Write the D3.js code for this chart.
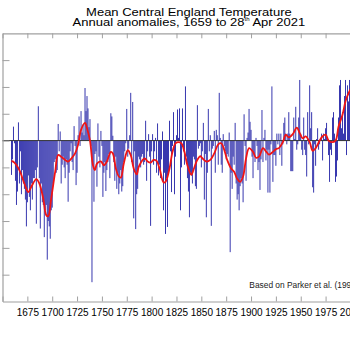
<!DOCTYPE html>
<html>
<head>
<meta charset="utf-8">
<script src="https://cdn.jsdelivr.net/npm/d3@7"></script>
<style>
  body { margin: 0; background: #fff; }
  text { font-family: "Liberation Sans", Arial, sans-serif; }
</style>
</head>
<body>
<div id="chart"></div>
<script>
// annual anomalies (degC), one per year from firstYear
var firstYear = 1659;
var anomalies = [
  -0.64, -0.35, 0.26, -0.05, -0.75, -1.20, -0.95, 0.34, -0.80, -0.20, -1.00,
  -0.55, -0.80, -0.90, -1.10, -1.60, -1.15, -0.65, -1.05, -1.30, -0.80,
  -1.10, -0.70, -0.70, -0.55, -1.55, -0.50, 0.64, -0.70, -1.64, -0.80,
  -1.15, -1.20, -1.80, -1.30, -1.20, -2.22, -1.50, -1.60, -1.83, -1.30,
  -1.25, -0.80, -0.40, -0.35, -0.60, -0.55, 0.31, -0.20, 0.17, -0.80,
  -0.45, -0.30, -0.50, -0.70, -0.35, -0.45, -1.14, -0.60, -0.20, -0.05,
  -0.40, -0.55, 0.27, -0.10, -0.83, -0.60, 0.10, 0.45, -0.10, 0.55,
  0.15, 0.30, 0.10, 0.98, 0.55, 0.83, 0.60, 0.25, 0.40, -0.10,
  -2.64, -0.45, -1.14, -0.25, -0.20, -0.86, 0.32, -0.30, -0.50, 0.18,
  -0.10, -1.05, -0.60, -0.40, -0.94, -0.55, -0.40, -0.25, -0.70, 0.51,
  0.45, 0.09, -0.40, -0.75, -0.30, -0.90, -0.60, -1.00, -0.80, -0.55,
  -0.95, -0.85, -0.40, -0.20, -0.05, 0.59, -0.30, -0.15, 0.10, 0.89,
  -0.40, 0.72, -1.45, -0.20, -1.65, -1.00, -0.90, -0.30, -0.35, -0.50,
  -0.30, -0.25, -0.45, -0.40, 0.37, -0.75, -0.20, 0.12, -0.30, -1.59,
  -0.20, 0.12, -0.45, -0.20, 0.05, -0.60, 0.32, -0.65, -0.45, -0.70,
  -0.35, 0.17, -1.30, -0.60, -1.74, -0.70, -1.61, -0.60, 0.37, -0.20,
  -0.96, -0.10, 0.53, -1.00, -0.30, 0.10, 0.58, 0.05, 0.60, -1.30,
  -0.50, 0.60, -0.20, -0.45, 1.01, -0.30, -0.70, -0.95, -1.43, -0.60,
  -0.65, -0.80, -0.30, -0.35, -0.85, -0.90, 0.66, -0.15, -0.10, -0.05,
  -0.50, -0.20, 0.33, -1.10, -0.25, -1.43, -0.60, 0.59, -0.20, 0.10,
  -1.59, -0.15, -0.10, 0.18, -0.60, 0.20, 0.10, -0.45, 0.89, 0.05,
  -0.45, -0.60, 0.12, -0.10, -0.20, -0.35, -0.25, -0.30, 0.15, -2.08,
  -0.60, -0.90, -0.30, -0.45, 0.33, -0.80, -1.10, -1.00, -1.30, -0.85,
  -0.70, -0.80, -1.15, 0.49, -0.10, -0.75, 0.05, 0.15, 0.59, 0.35,
  0.20, -0.30, -0.70, -0.25, -0.40, 0.05, -0.10, -0.55, -0.40, -0.92,
  -0.35, 0.57, -0.40, 0.05, 0.20, -0.37, -0.17, -0.97, -0.17, -0.97,
  -0.07, 1.01, -0.77, -0.27, -0.27, -0.47, 0.13, -0.07, 0.13, -0.27,
  0.13, -0.47, -0.07, 0.33, 0.43, 0.13, -0.07, 0.13, 0.53, 0.13,
  -0.57, -0.57, -0.57, 0.43, 0.03, 0.63, -0.17, -0.07, 0.43, 1.13,
  0.13, -0.17, -0.27, 0.43, -0.17, -0.27, -0.67, 0.53, -0.07, 1.03,
  0.23, 0.53, -0.87, -0.97, -0.07, -0.47, 0.03, 0.23, -0.17, -0.07,
  0.03, 0.13, -0.37, 0.13, 0.03, 0.23, 0.33, 0.03, -0.27, -0.77,
  -0.17, -0.27, 0.43, 0.53, 0.13, -0.77, -0.67, -0.37, 0.43, 1.03,
  1.13, 0.23, 0.53, 0.13, 0.83, 1.13, -0.27, 1.03, 0.73, 1.13,
  0.83, 0.53, 1.13, 1.03, 1.13, 1.03, 1.33, 1.13, 0.63, 0.63,
  -0.57, 1.23, 0.23, 0.13, 1.48, 0.83, 0.83, 1.13, 1.03, 0.83,
  1.33, 0.20
];

// smoothed curve
var smoothYears = [1659, 1662, 1667, 1672, 1676, 1679, 1684, 1687, 1691, 1694, 1696, 1699,
  1703, 1706, 1709, 1713, 1716, 1719, 1723, 1726, 1729, 1733, 1735, 1738, 1741, 1743,
  1745, 1749, 1752, 1755, 1759, 1761, 1764, 1767, 1769, 1772, 1776, 1779, 1782, 1785,
  1787, 1791, 1793, 1796, 1799, 1802, 1805, 1808, 1812, 1814, 1818, 1821, 1824, 1827,
  1830, 1833, 1836, 1840, 1842, 1846, 1849, 1851, 1855, 1859, 1863, 1867, 1870, 1873,
  1876, 1880, 1883, 1886, 1889, 1892, 1895, 1898, 1902, 1905, 1908, 1912, 1915, 1918,
  1922, 1925, 1928, 1932, 1935, 1938, 1942, 1946, 1949, 1952, 1955, 1959, 1962, 1965,
  1969, 1972, 1975, 1978, 1981, 1985, 1988, 1992, 1995, 1998, 2001, 2005, 2009, 2013,
  2017, 2021];
var smoothValues = [-0.38, -0.41, -0.55, -0.80, -0.96, -0.86, -0.72, -0.80, -1.08, -1.39, -1.41, -1.08,
  -0.58, -0.27, -0.30, -0.36, -0.39, -0.34, -0.24, -0.08, 0.20, 0.33, 0.23, 0.00, -0.46, -0.55,
  -0.43, -0.39, -0.46, -0.39, -0.21, -0.24, -0.52, -0.67, -0.69, -0.43, -0.18, -0.27, -0.52, -0.63,
  -0.49, -0.36, -0.33, -0.39, -0.41, -0.36, -0.38, -0.52, -0.78, -0.77, -0.52, -0.21, -0.05, -0.03,
  -0.05, -0.21, -0.46, -0.64, -0.55, -0.36, -0.29, -0.33, -0.39, -0.36, -0.24, -0.07, -0.05, -0.17,
  -0.36, -0.52, -0.58, -0.71, -0.77, -0.67, -0.33, -0.14, -0.21, -0.32, -0.30, -0.14, -0.20, -0.26,
  -0.21, -0.16, -0.14, -0.03, 0.11, 0.06, 0.12, 0.24, 0.14, 0.04, 0.08, -0.03, -0.19, -0.14,
  0.00, 0.08, 0.11, 0.00, -0.03, 0.00, 0.26, 0.48, 0.73, 0.88, 0.98, 1.05, 1.00, 0.95,
  1.05, 1.10];

var tickYears = [1650, 1675, 1700, 1725, 1750, 1775, 1800, 1825, 1850, 1875, 1900, 1925, 1950, 1975, 2000, 2025];
var yTicks = [-2.5, -2, -1.5, -1, -0.5, 0, 0.5, 1, 1.5];

var w = 350, h = 350;
var axisColor = "#a0a0a0";

var svg = d3.select("#chart").append("svg")
  .attr("width", w)
  .attr("height", h);

var x = d3.scaleLinear().domain([1650, 2025]).range([2.5, 375.3]);
var y = d3.scaleLinear().domain([-3, 2]).range([301.5, 33.3]);

var bars = anomalies.map(function (v, i) { return { year: firstYear + i, value: v }; });

// bars
svg.append("g").selectAll("rect")
  .data(bars)
  .enter()
  .append("rect")
  .attr("x", function (d) { return x(d.year) - 0.45; })
  .attr("width", 0.9)
  .attr("y", function (d) { return y(Math.max(0, d.value)); })
  .attr("height", function (d) { return Math.abs(y(d.value) - y(0)); })
  .attr("fill", "#2222a6");

// zero line
svg.append("line")
  .attr("x1", x(1650)).attr("x2", x(2025))
  .attr("y1", y(0)).attr("y2", y(0))
  .attr("stroke", "#333")
  .attr("stroke-width", 1);

// smoothed curve
var line = d3.line()
  .x(function (d) { return x(d[0]); })
  .y(function (d) { return y(d[1]); })
  .curve(d3.curveCatmullRom);

svg.append("path")
  .datum(d3.zip(smoothYears, smoothValues))
  .attr("d", line)
  .attr("fill", "none")
  .attr("stroke", "#f01414")
  .attr("stroke-width", 1.8);

// axes
function grey(g) {
  g.selectAll("path, line").attr("stroke", axisColor);
  g.select(".domain").attr("stroke-width", 1.2);
}

var bottom = svg.append("g")
  .attr("transform", "translate(0," + y(-3) + ")")
  .call(d3.axisBottom(x).tickValues(tickYears).tickSizeInner(-5).tickSizeOuter(0).tickPadding(7)
    .tickFormat(function (d) { return d === 1650 ? "" : d; }))
  .call(grey);
bottom.selectAll("text")
  .attr("font-family", "Liberation Sans, Arial, sans-serif")
  .attr("font-size", 10)
  .attr("fill", "#000");

svg.append("g")
  .attr("transform", "translate(0," + y(2) + ")")
  .call(d3.axisBottom(x).tickValues(tickYears).tickSize(5).tickSizeOuter(0).tickFormat(""))
  .call(grey);

svg.append("g")
  .attr("transform", "translate(" + x(1650) + ",0)")
  .call(d3.axisRight(y).tickValues(yTicks).tickSize(7).tickSizeOuter(0).tickFormat(""))
  .call(grey);

svg.append("g")
  .attr("transform", "translate(" + x(2025) + ",0)")
  .call(d3.axisLeft(y).tickValues(yTicks).tickSize(7).tickSizeOuter(0).tickFormat(""))
  .call(grey);

// titles
var cx = (x(1650) + x(2025)) / 2;
svg.append("g")
  .attr("transform", "translate(" + cx + ",15.7) scale(1,0.8)")
  .append("text")
  .attr("text-anchor", "middle")
  .attr("font-size", 13)
  .text("Mean Central England Temperature");

var t2 = svg.append("g")
  .attr("transform", "translate(" + cx + ",26.2) scale(1,0.8)")
  .append("text")
  .attr("text-anchor", "middle")
  .attr("font-size", 13);
t2.append("tspan").text("Annual anomalies, 1659 to 28");
t2.append("tspan").attr("font-size", 6).attr("dy", -6).text("th");
t2.append("tspan").attr("dy", 6).text(" Apr 2021");

svg.append("text")
  .attr("x", 249.3)
  .attr("y", 288.3)
  .attr("font-size", 8.4)
  .attr("fill", "#222")
  .text("Based on Parker et al. (1992)");
</script>
</body>
</html>
